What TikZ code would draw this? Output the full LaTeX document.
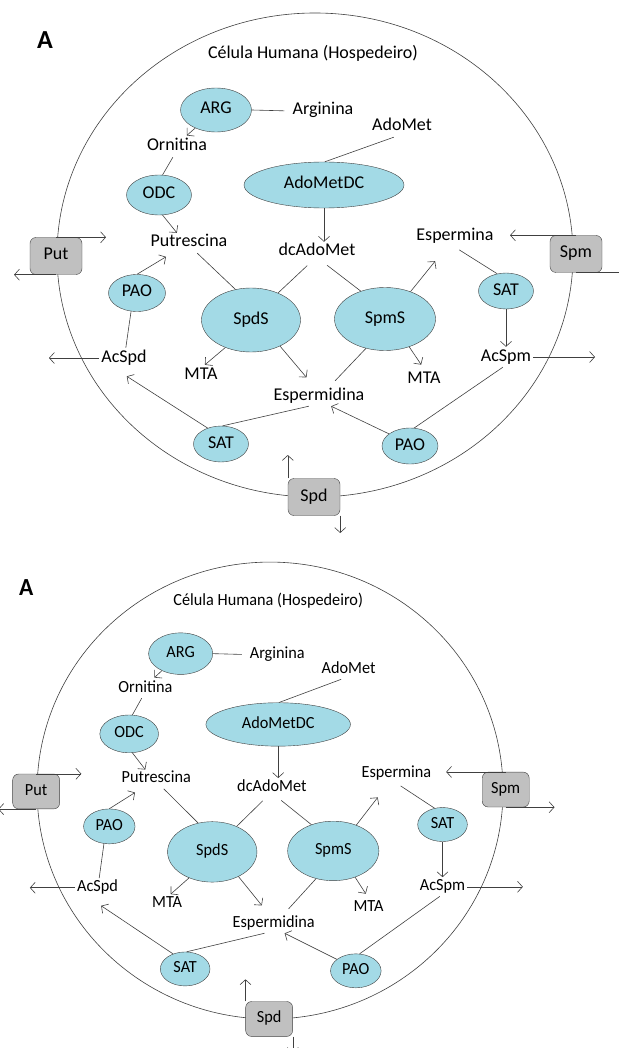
\documentclass[tikz,border=0pt]{standalone}
\usepackage{fontspec}
\setmainfont{Carlito}
\usetikzlibrary{shapes.geometric,arrows.meta}

\definecolor{enzfill}{HTML}{A3DAE6}
\definecolor{boxfill}{HTML}{C0C0C0}
\definecolor{linecol}{HTML}{404040}

\newcommand{\hostcell}{%
\draw[conn] (315,255) ellipse [x radius=258, y radius=242];

\node[font=\bfseries\fontsize{26}{30}\selectfont] (panel) at (45,40) {A};
\node[lbl] (celula) at (313,55) {Célula Humana (Hospedeiro)};

\node[box] (Put) at (56,256) {Put};
\node[box] (Spm) at (576,254) {Spm};
\node[box] (Spd) at (314,497) {Spd};

\coordinate (putin) at (106,237);
\coordinate (putout) at (14,273);
\coordinate (spmin) at (510,235);
\coordinate (spmout) at (630,272);
\coordinate (spdin) at (290,455);
\coordinate (spdout) at (339,533);
\coordinate (acspmout) at (595,357);
\coordinate (acspdout) at (49,358);

\node[enz, minimum width=71, minimum height=44] (arg) at (216,110) {ARG};
\node[enz, minimum width=65, minimum height=40] (odc) at (159,195) {ODC};
\node[enz, minimum width=160, minimum height=46] (adometdc) at (324,185) {AdoMetDC};
\node[enz, minimum width=57, minimum height=37] (paoa) at (137,293) {PAO};
\node[enz, minimum width=99, minimum height=64] (spds) at (251,320) {SpdS};
\node[enz, minimum width=101, minimum height=63] (spms) at (385,319) {SpmS};
\node[enz, minimum width=55, minimum height=36] (satb) at (506,291) {SAT};
\node[enz, minimum width=55, minimum height=36] (sata) at (221,444) {SAT};
\node[enz, minimum width=56, minimum height=36] (paob) at (410,446) {PAO};

\node[lbl] (arginina) at (323,111) {Arginina};
\node[lbl] (adomet) at (402,127) {AdoMet};
\node[lbl] (ornitina) at (177,147) {Ornitina};
\node[lbl] (putrescina) at (189,243) {Putrescina};
\node[lbl] (dcadomet) at (317,252) {dcAdoMet};
\node[lbl] (espermina) at (455,237) {Espermina};
\node[lbl] (acspd) at (124,358) {AcSpd};
\node[lbl] (acspm) at (506,357) {AcSpm};
\node[lbl] (mtaa) at (201,375) {MTA};
\node[lbl] (mtab) at (424,379) {MTA};
\node[lbl] (espermidina) at (319,396) {Espermidina};

\draw[conn,shorten >=6pt] (arg.east) -- (arginina.west);
\draw[conn,->,shorten >=2pt] (arg.221) -- (ornitina.51);
\draw[conn] (ornitina.248) -- (odc.80);
\draw[conn,->] (odc.280) -- (putrescina.140);
\draw[conn] (adomet.231) -- (adometdc.88);
\draw[conn,->] (adometdc.south) -- (adometdc.south |- dcadomet.north);
\draw[conn] (putrescina.309) -- (spds.117);
\draw[conn,shorten <=5pt] (dcadomet.239) -- (spds.45);
\draw[conn,shorten <=5pt] (dcadomet.301) -- (spms.131);
\draw[conn,->,shorten >=18pt] (spms.47) -- (espermina.230);
\draw[conn,shorten <=5pt] (espermina.south) -- (satb.117);
\draw[conn,->] (satb.south) -- (acspm.north);
\draw[conn,->] (acspm.east) -- (acspm.east -| acspmout);
\draw[conn] (acspm.253) -- (paob.77);
\draw[conn,->] (paob.150) -- (espermidina.320);
\draw[conn,shorten >=7pt] (spms.237) -- (espermidina.42);
\draw[conn,->] (spds.227) -- (mtaa.69);
\draw[conn,->,shorten >=11pt] (spds.318) -- (espermidina.118);
\draw[conn,->,shorten >=5pt] (spms.311) -- (mtab.north);
\draw[conn] (acspd.80) -- (paoa.252);
\draw[conn,->,shorten >=7pt] (paoa.north) -- (putrescina.211);
\draw[conn,->] (acspd.west) -- (acspd.west -| acspdout);
\draw[conn,->,shorten >=15pt] (sata.130) -- (acspd.226);
\draw[conn] (sata.85) -- (espermidina.225);

\draw[conn,->] (Put.north) -- (Put.north -| putin);
\draw[conn,->] (Put.south) -- (Put.south -| putout);
\draw[conn,->] (Spm.north) -- (Spm.north -| spmin);
\draw[conn,->] (Spm.south) -- (Spm.south -| spmout);
\draw[conn,->] (Spd.north west) -- (Spd.north west |- spdin);
\draw[conn,->] (Spd.south east) -- (Spd.south east |- spdout);
}

\begin{document}
\begin{tikzpicture}[x=1pt, y=-1pt,
  every node/.style={font=\fontsize{18}{21}\selectfont},
  enz/.style={ellipse, draw=linecol, fill=enzfill, inner sep=0pt, text height=12pt, text depth=4pt},
  box/.style={rectangle, rounded corners=6pt, draw=linecol, fill=boxfill, minimum width=52, minimum height=37, text height=12pt, text depth=4pt},
  lbl/.style={inner sep=2pt, text height=12pt, text depth=4pt},
  conn/.style={draw=linecol, line width=0.6pt},
  >={Straight Barb[length=5pt,width=11pt]}]

\useasboundingbox (0,0) rectangle (618,1048);

\begin{scope}
\hostcell
\end{scope}

\begin{scope}[shift={(-14.4,549.8)}, xscale=0.903, yscale=0.944, transform shape]
\hostcell
\end{scope}

\end{tikzpicture}
\end{document}
